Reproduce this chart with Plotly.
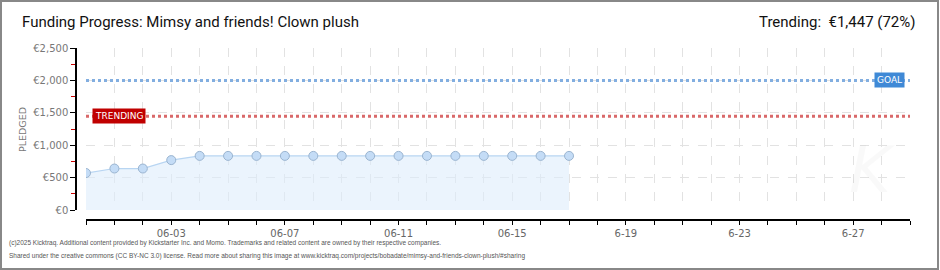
import plotly.graph_objects as go

dates = ["2025-05-31", "2025-06-01", "2025-06-02", "2025-06-03", "2025-06-04", "2025-06-05",
         "2025-06-06", "2025-06-07", "2025-06-08", "2025-06-09", "2025-06-10", "2025-06-11",
         "2025-06-12", "2025-06-13", "2025-06-14", "2025-06-15", "2025-06-16", "2025-06-17"]
pledged = [570, 640, 640, 770, 835, 835, 835, 835, 835, 835, 835, 835, 835, 835, 835, 835, 835, 835]
goal = 2000
trend = 1447
x_start, x_end = "2025-05-31", "2025-06-29"
xtick_vals = ["2025-06-03", "2025-06-07", "2025-06-11", "2025-06-15", "2025-06-19", "2025-06-23", "2025-06-27"]
xtick_text = ["06-03", "06-07", "06-11", "06-15", "6-19", "6-23", "6-27"]
ytick_vals = [0, 500, 1000, 1500, 2000, 2500]
ytick_text = ["€0", "€500", "€1,000", "€1,500", "€2,000", "€2,500"]
yminor_vals = [250, 750, 1250, 1750, 2250]

W, H = 940, 270
ml, mr, mt, mb = 76, 30, 48, 50
pw, ph = W - ml - mr, H - mt - mb
xd0 = 10 / pw
yd0 = 10 / ph
DAY = 86400000

fig = go.Figure()
fig.add_trace(go.Scatter(x=[x_start, x_end], y=[goal, goal], mode="lines",
                         line=dict(color="#82aee0", width=3, dash="3px,3px"), hoverinfo="skip"))
fig.add_trace(go.Scatter(x=[x_start, x_end], y=[trend, trend], mode="lines",
                         line=dict(color="#d9696a", width=3, dash="3px,3px"), hoverinfo="skip"))
fig.add_trace(go.Scatter(x=dates, y=pledged, mode="lines+markers", fill="tozeroy",
                         fillcolor="rgba(222,236,252,0.6)",
                         line=dict(color="#b8d5f2", width=1.2),
                         marker=dict(size=9, color="#c4dcf6", line=dict(color="#9ab4d0", width=1))))
# invisible trace on the offset axes so they are drawn
fig.add_trace(go.Scatter(x=[x_start], y=[0], xaxis="x2", yaxis="y2", mode="markers",
                         marker=dict(opacity=0), hoverinfo="skip"))

grid = dict(showgrid=True, gridcolor="#e2e2e2", griddash="dash", gridwidth=1)
fig.update_layout(
    width=W, height=H, margin=dict(l=ml, r=mr, t=mt, b=mb),
    paper_bgcolor="white", plot_bgcolor="white", showlegend=False,
    font=dict(family="DejaVu Sans", color="#666"),
    xaxis=dict(type="date", range=[x_start, x_end], domain=[xd0, 1], anchor="y",
               tickvals=xtick_vals, showticklabels=False, showline=False, ticks="",
               zeroline=False, **grid,
               minor=dict(dtick=DAY, tick0=x_start, **grid)),
    yaxis=dict(range=[0, 2500], domain=[yd0, 1], anchor="x",
               tickvals=ytick_vals, showticklabels=False, showline=False, ticks="",
               zeroline=False, **grid),
    xaxis2=dict(type="date", range=[x_start, x_end], overlaying="x", anchor="free", position=0,
                tickvals=xtick_vals, ticktext=xtick_text, tickfont=dict(size=10, color="#666"),
                showline=True, linecolor="#000", linewidth=1.5, ticks="outside", ticklen=4,
                tickcolor="#000", showgrid=False, zeroline=False,
                minor=dict(dtick=DAY, tick0=x_start, ticks="outside", ticklen=4, tickcolor="#000",
                           showgrid=False)),
    yaxis2=dict(range=[0, 2500], overlaying="y", anchor="free", position=0,
                tickvals=ytick_vals, ticktext=ytick_text, tickfont=dict(size=10, color="#777"),
                showline=True, linecolor="#000", linewidth=1.5, ticks="outside", ticklen=5,
                tickcolor="#000", showgrid=False, zeroline=False,
                minor=dict(tickvals=yminor_vals, ticks="outside", ticklen=4,
                           tickcolor="#cc0000", showgrid=False)),
)

def px(xp):
    return (xp - ml) / pw

def py(yp):
    return (H - yp - mb) / ph

# faint watermark
fig.add_annotation(xref="paper", yref="paper", x=px(872), y=py(170), text="<i>K</i>",
                   showarrow=False, xanchor="center", yanchor="middle",
                   font=dict(family="DejaVu Sans", size=64, color="rgba(0,0,0,0.025)"))

fig.add_annotation(x=x_start, y=trend, text="TRENDING", showarrow=False, xanchor="left", xshift=6,
                   font=dict(family="DejaVu Sans", size=9, color="white"), bgcolor="#c00000",
                   borderpad=2)
fig.add_annotation(x=x_end, y=goal, text="GOAL", showarrow=False, xanchor="right", xshift=-5,
                   font=dict(family="DejaVu Sans", size=9, color="white"), bgcolor="#3f89d6",
                   borderpad=2)

fig.add_annotation(xref="paper", yref="paper", x=px(22), y=py(130), text="PLEDGED", textangle=-90,
                   showarrow=False, xanchor="center", yanchor="middle",
                   font=dict(family="DejaVu Sans", size=9.5, color="#777"))
fig.add_annotation(xref="paper", yref="paper", x=px(20), y=py(22),
                   text="Funding Progress: Mimsy and friends! Clown plush", showarrow=False,
                   xanchor="left", yanchor="middle", font=dict(family="Roboto", size=15, color="#111"))
fig.add_annotation(xref="paper", yref="paper", x=px(918), y=py(22),
                   text="Trending:  €1,447 (72%)", showarrow=False,
                   xanchor="right", yanchor="middle", font=dict(family="Roboto", size=15, color="#111"))
footer_font = dict(family="Liberation Sans", size=6.5, color="#555")
fig.add_annotation(xref="paper", yref="paper", x=px(7), y=py(243),
                   text="(c)2025 Kicktraq. Additional content provided by Kickstarter Inc. and Momo. Trademarks and related content are owned by their respective companies.",
                   showarrow=False, xanchor="left", yanchor="middle", font=footer_font)
fig.add_annotation(xref="paper", yref="paper", x=px(7), y=py(256),
                   text="Shared under the creative commons (CC BY-NC 3.0) license. Read more about sharing this image at www.kicktraq.com/projects/bobadate/mimsy-and-friends-clown-plush/#sharing",
                   showarrow=False, xanchor="left", yanchor="middle", font=footer_font)

fig.add_shape(type="rect", xref="paper", yref="paper",
              x0=px(1), x1=px(W - 2), y0=py(H - 1), y1=py(1),
              line=dict(color="#888", width=2), fillcolor="rgba(0,0,0,0)", layer="above")

fig.write_html("out.html")
